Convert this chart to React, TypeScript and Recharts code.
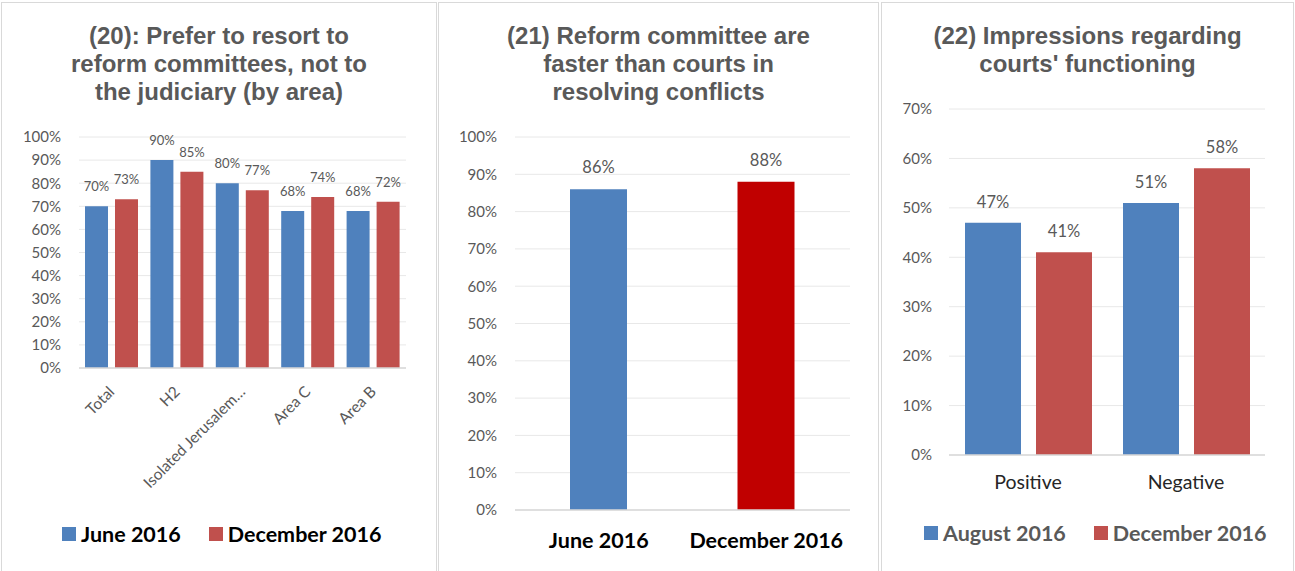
import { BarChart, Bar, XAxis, YAxis, CartesianGrid, LabelList, Cell } from 'recharts';

// (20) prefer reform committees, by area
const areaNames = ['Total', 'H2', 'Isolated Jerusalem…', 'Area C', 'Area B'];
const june2016ByArea = [70, 90, 80, 68, 68];
const december2016ByArea = [73, 85, 77, 74, 72];

// (21) reform committees faster than courts
const speedPeriods = ['June 2016', 'December 2016'];
const fasterThanCourts = [86, 88];

// (22) impressions of courts
const impressionNames = ['Positive', 'Negative'];
const august2016Impressions = [47, 51];
const december2016Impressions = [41, 58];

const ticksTo100 = [0, 10, 20, 30, 40, 50, 60, 70, 80, 90, 100];
const ticksTo70 = [0, 10, 20, 30, 40, 50, 60, 70];

const BLUE = '#4F81BD';
const RED = '#C0504D';
const DARK_RED = '#C00000';
const GREY_TEXT = '#595959';
const GRID = '#E8E8E8';
const AXIS = '#D9D9D9';
const TITLE_FONT = '"Liberation Sans", Arial, sans-serif';

const pct = (v: number) => `${v}%`;

const areaData = areaNames.map((name, i) => ({
  name,
  june: june2016ByArea[i],
  december: december2016ByArea[i],
}));
const speedData = speedPeriods.map((name, i) => ({ name, value: fasterThanCourts[i] }));
const speedColors = [BLUE, DARK_RED];
const impressionData = impressionNames.map((name, i) => ({
  name,
  august: august2016Impressions[i],
  december: december2016Impressions[i],
}));

function Frame({ left, width }: { left: number; width: number }) {
  return (
    <div
      style={{
        position: 'absolute',
        left,
        top: 2,
        width,
        height: 575,
        boxSizing: 'border-box',
        border: `1px solid ${AXIS}`,
      }}
    />
  );
}

function Title({ left, width, lines }: { left: number; width: number; lines: string[] }) {
  return (
    <div
      style={{
        position: 'absolute',
        left,
        top: 22,
        width,
        textAlign: 'center',
        fontFamily: TITLE_FONT,
        fontWeight: 700,
        fontSize: 24,
        lineHeight: '28px',
        color: GREY_TEXT,
      }}
    >
      {lines.map((l) => (
        <div key={l}>{l}</div>
      ))}
    </div>
  );
}

function LegendRow({
  left,
  top,
  items,
  color,
}: {
  left: number;
  top: number;
  items: { label: string; color: string }[];
  color: string;
}) {
  return (
    <div style={{ position: 'absolute', left, top, display: 'flex', alignItems: 'center' }}>
      {items.map((it, i) => (
        <div key={it.label} style={{ display: 'flex', alignItems: 'center', marginLeft: i ? 28 : 0 }}>
          <span style={{ width: 14, height: 14, background: it.color, display: 'inline-block', marginRight: 5 }} />
          <span style={{ fontSize: 21.5, fontWeight: 700, color, lineHeight: '24px' }}>{it.label}</span>
        </div>
      ))}
    </div>
  );
}

const yTick = { fill: GREY_TEXT, fontSize: 15 };

export default function App() {
  return (
    <div
      style={{
        position: 'absolute',
        left: 0,
        top: 0,
        width: 1295,
        height: 571,
        overflow: 'hidden',
        background: '#fff',
        fontFamily: 'Lato, sans-serif',
      }}
    >
      <Frame left={1} width={436} />
      <Frame left={438} width={441} />
      <Frame left={881} width={413} />

      <Title left={1} width={436} lines={['(20): Prefer to resort to', 'reform committees, not to', 'the judiciary (by area)']} />
      <Title left={438} width={441} lines={['(21) Reform committee are', 'faster than courts in', 'resolving conflicts']} />
      <Title left={881} width={413} lines={['(22) Impressions regarding', "courts' functioning"]} />

      {/* chart 20 */}
      <div style={{ position: 'absolute', left: 0, top: 0 }}>
        <BarChart
          width={436}
          height={571}
          data={areaData}
          margin={{ top: 137, right: 30, bottom: 103, left: 0 }}
          barGap={7}
          barCategoryGap="9%"
        >
          <CartesianGrid vertical={false} stroke={GRID} />
          <YAxis
            width={79}
            domain={[0, 100]}
            ticks={ticksTo100}
            interval={0}
            tickFormatter={pct}
            axisLine={false}
            tickLine={false}
            tickSize={0}
            tickMargin={18}
            tick={yTick}
          />
          <XAxis
            dataKey="name"
            interval={0}
            angle={-45}
            textAnchor="end"
            height={100}
            tickLine={false}
            tickSize={0}
            tickMargin={17}
            axisLine={{ stroke: AXIS, strokeWidth: 1.5 }}
            tick={{ fill: GREY_TEXT, fontSize: 15.5, dx: -4 }}
          />
          <Bar dataKey="june" fill={BLUE} barSize={23} isAnimationActive={false}>
            <LabelList dataKey="june" position="top" offset={15} formatter={pct} fill={GREY_TEXT} fontSize={13} />
          </Bar>
          <Bar dataKey="december" fill={RED} barSize={23} isAnimationActive={false}>
            <LabelList dataKey="december" position="top" offset={15} formatter={pct} fill={GREY_TEXT} fontSize={13} />
          </Bar>
        </BarChart>
      </div>
      <LegendRow
        left={62}
        top={522}
        color="#000"
        items={[
          { label: 'June 2016', color: BLUE },
          { label: 'December 2016', color: RED },
        ]}
      />

      {/* chart 21 */}
      <div style={{ position: 'absolute', left: 438, top: 0 }}>
        <BarChart
          width={440}
          height={571}
          data={speedData}
          margin={{ top: 137, right: 28, bottom: 11, left: 0 }}
        >
          <CartesianGrid vertical={false} stroke={GRID} />
          <YAxis
            width={77}
            domain={[0, 100]}
            ticks={ticksTo100}
            interval={0}
            tickFormatter={pct}
            axisLine={false}
            tickLine={false}
            tickSize={0}
            tickMargin={18}
            tick={yTick}
          />
          <XAxis
            dataKey="name"
            interval={0}
            height={50}
            tickLine={false}
            tickSize={0}
            tickMargin={23}
            axisLine={{ stroke: AXIS, strokeWidth: 1.5 }}
            tick={{ fill: '#000', fontSize: 21.5, fontWeight: 700 }}
          />
          <Bar dataKey="value" barSize={57} isAnimationActive={false}>
            {speedData.map((d, i) => (
              <Cell key={d.name} fill={speedColors[i]} />
            ))}
            <LabelList dataKey="value" position="top" offset={16} formatter={pct} fill={GREY_TEXT} fontSize={16.5} />
          </Bar>
        </BarChart>
      </div>

      {/* chart 22 */}
      <div style={{ position: 'absolute', left: 881, top: 0 }}>
        <BarChart
          width={413}
          height={571}
          data={impressionData}
          margin={{ top: 109, right: 29, bottom: 56, left: 0 }}
          barGap={15}
          barCategoryGap="10%"
        >
          <CartesianGrid vertical={false} stroke={GRID} />
          <YAxis
            width={68}
            domain={[0, 70]}
            ticks={ticksTo70}
            interval={0}
            tickFormatter={pct}
            axisLine={false}
            tickLine={false}
            tickSize={0}
            tickMargin={17}
            tick={yTick}
          />
          <XAxis
            dataKey="name"
            interval={0}
            height={60}
            tickLine={false}
            tickSize={0}
            tickMargin={20}
            axisLine={{ stroke: AXIS, strokeWidth: 1.5 }}
            tick={{ fill: '#262626', fontSize: 19.5 }}
          />
          <Bar dataKey="august" fill={BLUE} barSize={56} isAnimationActive={false}>
            <LabelList dataKey="august" position="top" offset={15} formatter={pct} fill={GREY_TEXT} fontSize={16.5} />
          </Bar>
          <Bar dataKey="december" fill={RED} barSize={56} isAnimationActive={false}>
            <LabelList dataKey="december" position="top" offset={15} formatter={pct} fill={GREY_TEXT} fontSize={16.5} />
          </Bar>
        </BarChart>
      </div>
      <LegendRow
        left={924}
        top={521}
        color={GREY_TEXT}
        items={[
          { label: 'August 2016', color: BLUE },
          { label: 'December 2016', color: RED },
        ]}
      />
    </div>
  );
}
